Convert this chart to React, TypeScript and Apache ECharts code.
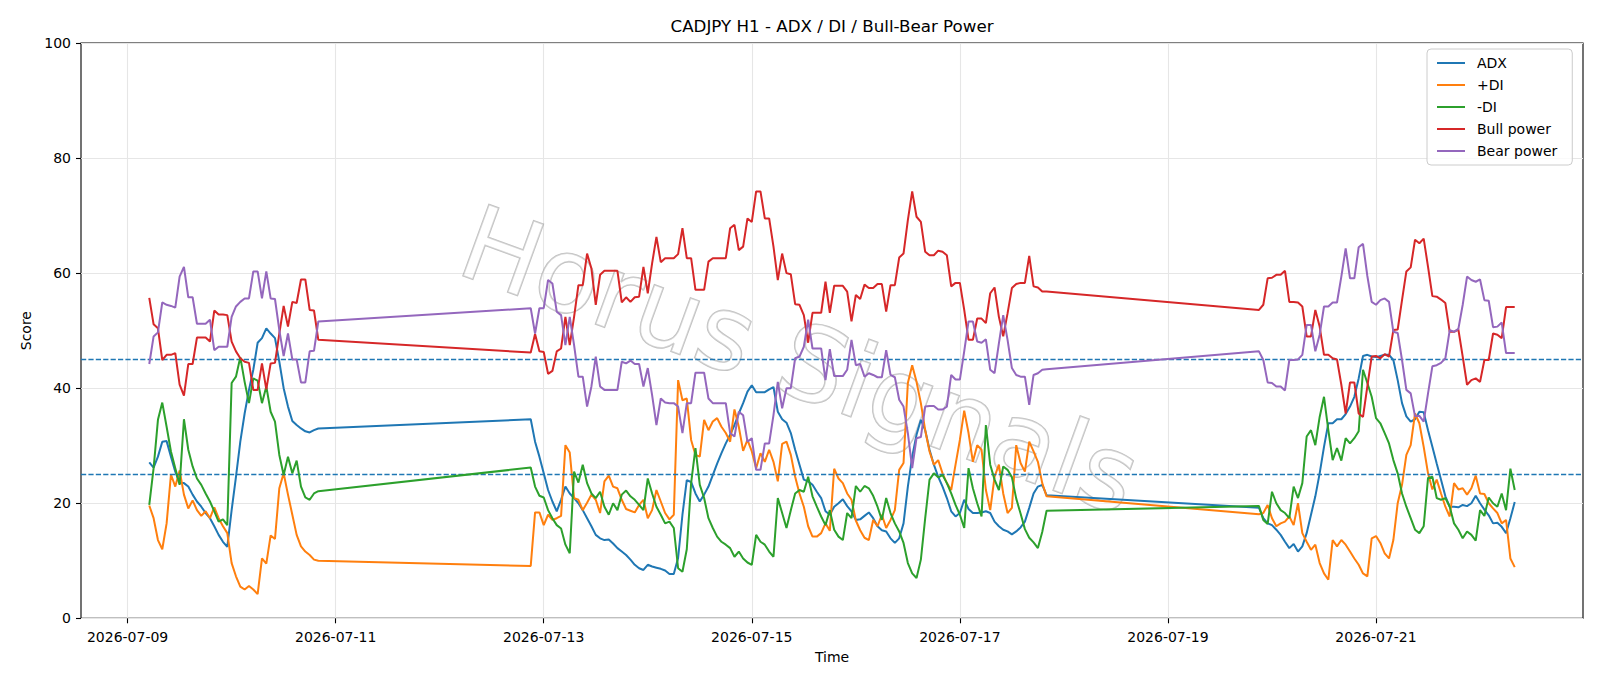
import React, { useEffect, useRef } from "react";
import * as echarts from "echarts";

// Hourly trading sessions (UTC start, number of H1 bars)
const sessions = [
  { start: "2026-07-09T05:00:00Z", bars: 40 },
  { start: "2026-07-12T21:00:00Z", bars: 120 },
  { start: "2026-07-19T21:00:00Z", bars: 60 },
];

const xTickLabels = ["2026-07-09", "2026-07-11", "2026-07-13", "2026-07-15", "2026-07-17", "2026-07-19", "2026-07-21"];
const yTicks = { min: 0, max: 100, step: 20 };
const thresholds = [45, 25];

const adx = [
  27.1, 26.2, 28.1, 30.7, 30.8, 28.1, 25.5, 23.5, 23.5, 22.9, 21.5, 20.3, 19.4, 18.3, 17.4, 16.0, 14.5, 13.3, 12.4, 18.8,
  24.6, 30.7, 35.6, 39.7, 43.2, 47.9, 48.7, 50.4, 49.5, 48.7, 44.6, 40.0, 36.8, 34.3, 33.6, 33.0, 32.5, 32.3, 32.7, 33.0,
  34.6, 30.7, 28.1, 25.2, 22.3, 20.3, 18.6, 20.6, 22.9, 21.7,
  20.9, 20.0, 18.8, 17.4, 16.0, 14.5, 13.9, 13.6, 13.7, 13.0,
  12.2, 11.6, 11.0, 10.2, 9.3, 8.7, 8.4, 9.3, 9.0, 8.8,
  8.6, 8.3, 7.7, 7.7, 10.5, 18.0, 24.0, 23.7, 21.7, 20.3,
  21.5, 22.9, 24.9, 26.9, 28.7, 30.4, 31.9, 33.6, 35.6, 37.4,
  39.4, 40.5, 39.3, 39.3, 39.3, 39.8, 40.2, 35.9, 34.6, 34.0,
  32.2, 29.3, 26.7, 24.1, 23.8, 23.2, 22.0, 20.9, 18.6, 18.0,
  19.4, 20.0, 20.7, 19.5, 18.6, 17.1, 17.2, 17.8, 18.4, 17.4,
  16.0, 15.3, 15.1, 13.9, 13.1, 13.9, 16.5, 22.9, 28.1, 31.9,
  34.5, 32.7, 29.3, 26.7, 24.6, 22.9, 20.9, 18.6, 17.7, 18.3,
  20.6, 19.0, 18.3, 18.3, 18.4, 18.6, 18.3, 16.8, 16.0, 15.4,
  15.1, 14.6, 15.1, 15.8, 16.8, 19.2, 21.7, 22.9, 23.2, 21.4,
  19.2, 17.4, 16.5, 16.2, 15.4, 14.5, 13.3, 12.2, 12.9, 11.6,
  12.5, 14.8, 18.0, 21.2, 25.2, 29.8, 33.9, 33.9, 34.6, 34.6,
  35.5, 36.8, 38.5, 41.7, 45.6, 45.8, 45.5, 45.4, 45.6, 45.8,
  45.8, 44.9, 41.4, 37.4, 35.1, 34.2, 34.6, 35.9, 35.8, 32.7,
  29.8, 26.9, 24.1, 21.2, 19.4, 19.4, 19.3, 19.7, 19.5, 20.0,
  21.3, 20.0, 18.9, 17.9, 16.5, 16.6, 15.9, 14.8, 17.4, 20.2,
];

const plusDI = [
  19.6, 17.4, 13.6, 12.0, 16.5, 25.0, 22.9, 25.7, 21.5, 19.1, 20.5, 18.8, 17.8, 18.6, 17.4, 19.3, 17.4, 16.0, 14.8, 9.6,
  7.3, 5.5, 5.0, 5.6, 5.0, 4.2, 10.4, 9.5, 14.4, 13.8, 22.6, 25.2, 21.5, 18.0, 14.5, 12.5, 11.6, 11.0, 10.2, 10.0,
  9.1, 18.4, 18.4, 16.2, 18.0, 17.1, 17.4, 17.8, 30.1, 28.8,
  20.9, 20.6, 18.8, 20.1, 21.5, 20.6, 18.3, 23.8, 24.8, 22.9,
  22.6, 20.6, 19.0, 18.7, 18.4, 19.7, 20.6, 17.4, 18.8, 22.3,
  20.3, 18.3, 17.2, 18.0, 41.4, 37.9, 38.2, 31.0, 28.4, 28.1,
  34.5, 32.7, 34.2, 34.8, 33.3, 32.2, 30.7, 36.3, 33.3, 29.1,
  31.0, 29.0, 26.1, 28.7, 27.2, 29.3, 27.2, 23.8, 30.3, 30.7,
  28.4, 24.6, 21.7, 19.4, 16.0, 14.2, 14.2, 14.8, 16.5, 15.2,
  26.0, 24.3, 23.5, 21.7, 20.6, 17.0, 15.3, 14.0, 13.6, 17.1,
  16.0, 18.0, 15.7, 17.1, 18.8, 25.8, 27.0, 40.9, 44.0, 41.1,
  37.4, 32.7, 29.0, 26.7, 27.5, 25.2, 23.5, 22.3, 26.7, 31.0,
  36.1, 32.2, 27.2, 30.1, 29.3, 22.3, 18.8, 24.6, 26.7, 21.7,
  18.3, 19.2, 30.1, 27.0, 25.5, 30.7, 29.0, 27.2, 23.5, 21.2,
  18.1, 18.3, 19.7, 17.4, 16.0, 16.5, 16.8, 17.7, 16.2, 20.0,
  14.8, 13.3, 11.9, 12.8, 9.6, 7.8, 6.7, 13.6, 12.5, 13.6,
  12.8, 11.6, 10.4, 9.3, 7.8, 7.3, 13.9, 14.3, 13.1, 11.3,
  10.4, 13.6, 20.0, 23.2, 28.4, 30.1, 35.6, 33.9, 29.8, 25.2,
  22.4, 24.1, 21.7, 19.4, 17.7, 23.5, 22.4, 22.6, 21.5, 22.6,
  24.8, 21.7, 21.6, 20.0, 19.1, 18.3, 16.5, 17.1, 10.4, 8.9,
];

const minusDI = [
  19.7, 26.1, 34.5, 37.5, 33.3, 29.0, 26.1, 23.2, 34.6, 29.3, 26.4, 24.3, 23.2, 21.7, 20.3, 18.6, 16.8, 17.2, 16.2, 40.9,
  42.0, 45.4, 41.1, 37.4, 41.7, 41.3, 37.4, 40.3, 35.9, 34.2, 28.4, 24.9, 28.1, 25.2, 27.4, 22.9, 21.0, 20.6, 21.7, 22.1,
  26.2, 22.9, 21.3, 21.0, 18.8, 17.4, 16.2, 15.6, 12.8, 11.3,
  25.5, 23.6, 26.7, 23.5, 21.7, 20.9, 22.0, 19.4, 18.0, 20.0,
  18.8, 21.5, 22.2, 21.2, 20.6, 19.7, 18.8, 24.3, 21.7, 19.4,
  18.0, 16.5, 16.8, 15.7, 8.7, 8.1, 12.0, 23.5, 29.6, 23.2,
  20.9, 17.4, 15.7, 14.2, 13.3, 12.8, 12.2, 10.7, 11.6, 10.4,
  9.7, 9.3, 14.5, 13.3, 12.8, 11.6, 10.7, 20.9, 18.3, 15.7,
  18.8, 21.7, 22.3, 22.0, 24.6, 21.2, 19.4, 17.7, 16.2, 18.8,
  15.4, 14.2, 13.6, 18.3, 17.4, 23.0, 22.0, 23.0, 22.6, 21.3,
  19.4, 17.1, 20.9, 18.3, 16.5, 15.1, 13.1, 9.6, 7.8, 7.0,
  10.2, 17.4, 24.1, 25.2, 24.5, 24.9, 23.5, 21.7, 19.7, 18.0,
  15.7, 26.1, 22.6, 20.0, 17.7, 33.6, 26.7, 24.1, 22.3, 26.4,
  25.8, 24.5, 20.8, 18.2, 15.5, 14.0, 13.2, 12.2, 15.0, 18.7,
  19.5, 17.1, 16.4, 22.0, 20.0, 18.8, 18.3, 17.4, 22.9, 20.9,
  23.5, 31.6, 32.7, 30.1, 35.0, 38.5, 32.7, 27.5, 29.6, 27.4,
  31.3, 30.4, 31.3, 32.5, 43.2, 40.9, 38.5, 34.8, 33.9, 32.2,
  30.4, 27.5, 25.2, 21.7, 19.4, 17.4, 15.4, 14.8, 16.0, 24.4,
  24.6, 20.9, 20.6, 20.9, 19.4, 16.5, 15.4, 13.9, 15.1, 14.5,
  13.5, 18.8, 17.8, 21.0, 20.0, 19.4, 21.7, 18.8, 26.0, 22.3,
];

const bullPower = [
  55.7, 51.1, 50.4, 44.9, 45.8, 45.8, 46.1, 40.6, 38.7, 44.2, 44.2, 48.8, 48.8, 48.8, 48.1, 53.5, 52.8, 52.8, 52.7, 48.1,
  46.4, 45.2, 44.6, 44.4, 39.7, 39.7, 44.3, 39.8, 44.3, 44.4, 49.5, 54.3, 50.7, 55.0, 54.8, 58.9, 58.9, 53.6, 53.5, 48.4,
  46.2, 49.4, 46.4, 46.3, 42.5, 43.0, 46.4, 46.9, 52.4, 47.5,
  52.4, 57.9, 57.9, 63.4, 60.8, 54.5, 59.7, 60.4, 60.4, 60.4,
  60.4, 54.9, 55.8, 55.0, 55.8, 55.9, 61.1, 56.5, 61.7, 66.3,
  61.9, 62.6, 62.6, 62.6, 63.3, 67.8, 62.6, 62.6, 57.1, 57.1,
  57.1, 62.0, 62.6, 62.6, 62.6, 62.6, 67.8, 68.4, 64.0, 64.6,
  69.5, 68.9, 74.2, 74.2, 69.5, 69.5, 64.6, 58.8, 63.4, 60.0,
  59.8, 54.6, 54.5, 52.7, 47.9, 53.1, 53.1, 53.1, 58.5, 53.1,
  57.8, 57.8, 57.8, 56.8, 51.6, 56.2, 55.5, 58.0, 57.4, 57.4,
  58.1, 58.1, 53.3, 57.9, 57.9, 62.7, 63.4, 69.2, 74.2, 69.8,
  68.9, 63.7, 63.1, 63.1, 63.9, 63.7, 63.1, 57.7, 58.3, 58.3,
  53.6, 48.4, 48.4, 52.1, 52.1, 51.3, 56.5, 57.5, 52.4, 49.0,
  53.0, 57.4, 58.1, 58.3, 58.3, 63.0, 57.7, 57.5, 56.8, 56.8,
  53.6, 54.5, 59.1, 59.2, 59.7, 59.7, 60.4, 55.0, 55.0, 54.9,
  54.2, 49.0, 49.0, 53.6, 50.7, 45.8, 45.8, 45.2, 45.0, 40.6,
  35.6, 41.0, 41.0, 35.6, 35.0, 40.3, 45.5, 45.6, 45.2, 45.9,
  45.5, 50.1, 50.2, 55.3, 60.3, 61.0, 65.8, 65.2, 66.0, 61.1,
  56.0, 55.9, 55.4, 54.8, 49.8, 49.8, 50.2, 45.5, 40.6, 41.4,
  41.7, 41.1, 44.9, 44.9, 49.5, 49.3, 48.7, 54.1, 54.1, 54.1,
];

const bearPower = [
  44.2, 49.0, 49.7, 54.9, 54.5, 54.3, 54.0, 59.4, 61.1, 55.8, 55.8, 51.2, 51.2, 51.2, 51.9, 46.6, 47.2, 47.2, 47.2, 52.4,
  54.2, 55.0, 55.6, 55.6, 60.3, 60.3, 55.6, 60.3, 55.6, 55.5, 50.1, 45.6, 49.5, 45.0, 45.0, 41.0, 41.0, 46.4, 46.5, 51.6,
  53.9, 49.5, 53.9, 53.9, 58.8, 58.2, 53.3, 52.7, 47.5, 52.4,
  47.5, 42.0, 42.0, 36.8, 40.3, 45.5, 40.3, 39.7, 39.7, 39.7,
  39.7, 44.6, 44.3, 44.8, 44.2, 44.2, 40.3, 43.5, 38.8, 33.6,
  38.2, 37.5, 37.4, 37.4, 36.8, 32.2, 37.4, 37.4, 42.7, 42.7,
  42.7, 38.2, 37.4, 37.4, 37.4, 37.4, 32.2, 31.6, 35.9, 35.3,
  30.7, 31.3, 25.8, 25.8, 30.4, 30.4, 35.3, 41.1, 36.5, 40.0,
  40.0, 45.2, 45.5, 47.2, 51.9, 46.9, 46.9, 46.9, 41.4, 46.8,
  42.1, 42.1, 42.1, 43.2, 48.4, 44.0, 44.2, 42.0, 42.6, 42.3,
  41.9, 41.9, 46.6, 42.3, 41.9, 38.0, 36.8, 32.2, 26.1, 31.3,
  31.5, 36.8, 36.9, 36.9, 36.3, 36.3, 36.8, 42.3, 41.5, 41.5,
  46.4, 51.6, 51.6, 48.1, 47.9, 48.5, 43.2, 42.6, 47.8, 52.7,
  48.4, 43.5, 42.3, 42.0, 42.0, 37.1, 42.3, 42.6, 43.2, 43.3,
  46.4, 44.9, 41.0, 40.9, 40.3, 40.3, 39.6, 44.9, 44.9, 45.0,
  45.8, 51.0, 51.0, 46.4, 49.3, 54.2, 54.2, 54.9, 54.9, 59.4,
  64.3, 59.1, 59.1, 64.5, 65.1, 59.5, 55.0, 54.5, 55.3, 55.6,
  55.0, 49.8, 49.6, 44.9, 39.7, 39.1, 35.1, 35.2, 34.2, 39.1,
  43.8, 44.0, 44.4, 45.2, 50.1, 49.8, 50.3, 54.5, 59.4, 58.8,
  58.5, 58.9, 55.3, 55.2, 50.6, 50.7, 51.4, 46.1, 46.1, 46.1,
];

const seriesDefs = [
  { name: "ADX", values: adx, color: "#1f77b4" },
  { name: "+DI", values: plusDI, color: "#ff7f0e" },
  { name: "-DI", values: minusDI, color: "#2ca02c" },
  { name: "Bull power", values: bullPower, color: "#d62728" },
  { name: "Bear power", values: bearPower, color: "#9467bd" },
];

const HOUR = 3600000;
const FONT = "DejaVu Sans";

function buildTimes(): number[] {
  const out: number[] = [];
  sessions.forEach((s) => {
    const t0 = Date.parse(s.start);
    for (let i = 0; i < s.bars; i++) out.push(t0 + i * HOUR);
  });
  return out;
}

export default function App() {
  const ref = useRef<HTMLDivElement | null>(null);

  useEffect(() => {
    if (!ref.current) return;
    const chart = echarts.init(ref.current, null, { renderer: "svg" });
    const times = buildTimes();
    const tMin = times[0];
    const tMax = times[times.length - 1];
    const pad = (tMax - tMin) * 0.05;
    const tickVals = xTickLabels.map((d) => Date.parse(d + "T00:00:00Z"));

    const series: any[] = seriesDefs.map((d, idx) => ({
      name: d.name,
      type: "line",
      data: d.values.map((v, i) => [times[i], v]),
      showSymbol: false,
      symbol: "none",
      lineStyle: { color: d.color, width: 2 },
      itemStyle: { color: d.color },
      emphasis: { disabled: true },
      z: 3 + idx,
    }));
    series.push({
      name: "thresholds",
      type: "line",
      data: [],
      z: 10,
      markLine: {
        silent: true,
        symbol: ["none", "none"],
        label: { show: false },
        lineStyle: { color: "#1f77b4", width: 1.4, type: [5.2, 2.2] },
        data: thresholds.map((v) => ({ yAxis: v })),
      },
    });

    const plotLeft = 81;
    const plotRight = 1583;
    const plotTop = 43;
    const plotBottom = 618.3;

    chart.setOption({
      animation: false,
      textStyle: { fontFamily: FONT },
      grid: {
        left: plotLeft,
        right: 1600 - plotRight,
        top: plotTop,
        bottom: 686 - plotBottom,
        show: true,
        borderColor: "#000",
        borderWidth: 1.1,
        backgroundColor: "transparent",
      },
      xAxis: {
        type: "value",
        min: tMin - pad,
        max: tMax + pad,
        axisLine: { show: false },
        axisTick: { show: true, customValues: tickVals, length: 5, lineStyle: { color: "#000", width: 1.1 } },
        axisLabel: {
          customValues: tickVals,
          formatter: (v: number) => new Date(v).toISOString().slice(0, 10),
          fontSize: 14,
          fontFamily: FONT,
          color: "#000",
          margin: 12,
        },
        splitLine: { show: true, lineStyle: { color: "#e6e6e6", width: 1.1 } },
      },
      yAxis: {
        type: "value",
        min: yTicks.min,
        max: yTicks.max,
        interval: yTicks.step,
        axisLine: { show: false },
        axisTick: { show: true, length: 5, lineStyle: { color: "#000", width: 1.1 } },
        axisLabel: { fontSize: 14, fontFamily: FONT, color: "#000", margin: 10 },
        splitLine: { show: true, lineStyle: { color: "#e6e6e6", width: 1.1 } },
      },
      legend: {
        orient: "vertical",
        left: 1427,
        top: 49,
        padding: [6, 15, 6, 10],
        itemGap: 6,
        itemWidth: 28,
        itemHeight: 2,
        icon: "rect",
        backgroundColor: "rgba(255,255,255,0.8)",
        borderColor: "#cccccc",
        borderWidth: 1,
        borderRadius: 4,
        textStyle: { fontSize: 14, fontFamily: FONT, color: "#000", lineHeight: 16, padding: [0, 0, 0, 7] },
        data: seriesDefs.map((d) => d.name),
        z: 20,
      },
      graphic: [
        {
          type: "text",
          x: 800,
          y: 360,
          rotation: (-20 * Math.PI) / 180,
          z: 1,
          silent: true,
          style: {
            text: "Horus Signals",
            fontSize: 104,
            fontFamily: FONT,
            fill: "rgba(255,255,255,0.35)",
            stroke: "rgba(150,150,150,0.6)",
            lineWidth: 1.6,
            shadowColor: "rgba(0,0,0,0.18)",
            shadowBlur: 2,
            shadowOffsetX: 2,
            shadowOffsetY: 2,
            align: "center",
            verticalAlign: "middle",
          },
        },
        {
          type: "text",
          x: (plotLeft + plotRight) / 2,
          y: 26,
          style: {
            text: "CADJPY H1 - ADX / DI / Bull-Bear Power",
            fontSize: 16.7,
            fontFamily: FONT,
            fill: "#000",
            align: "center",
            verticalAlign: "middle",
          },
        },
        {
          type: "text",
          x: (plotLeft + plotRight) / 2,
          y: 657,
          style: { text: "Time", fontSize: 14, fontFamily: FONT, fill: "#000", align: "center", verticalAlign: "middle" },
        },
        {
          type: "text",
          x: 26,
          y: (plotTop + plotBottom) / 2,
          rotation: Math.PI / 2,
          style: { text: "Score", fontSize: 14, fontFamily: FONT, fill: "#000", align: "center", verticalAlign: "middle" },
        },
      ],
      series,
    });

    return () => chart.dispose();
  }, []);

  return (
    <div
      ref={ref}
      style={{ position: "absolute", left: 0, top: 0, width: 1600, height: 686, background: "#fff" }}
    />
  );
}
